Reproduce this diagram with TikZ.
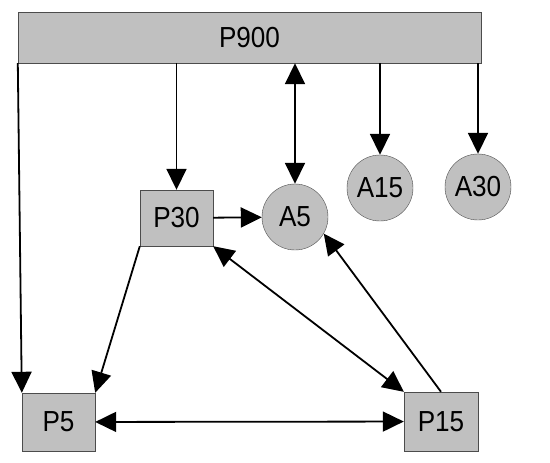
\documentclass[tikz,border=0pt]{standalone}
\usepackage{fontspec}
\setmainfont{Liberation Sans}[FakeStretch=0.9]
\usepackage{xcolor}
\usepackage{tikz}
\usetikzlibrary{arrows.meta,positioning,calc}
\definecolor{boxgray}{RGB}{192,192,192}

\begin{document}
\begin{tikzpicture}[x=1pt,y=-1pt,>={Triangle[length=21pt,width=20pt]},
  every node/.style={font=\fontsize{29}{32}\selectfont,inner sep=0pt},
  proc/.style={rectangle,draw=black!70,fill=boxgray},
  acc/.style={circle,draw=black!70,fill=boxgray,minimum size=66pt},
  link/.style={line width=1.8pt}]
\useasboundingbox (0,0) rectangle (550,463);
\node[proc,minimum width=463pt,minimum height=51pt] (p900) at (249.5,37.5) {P900};
\node[proc,minimum width=73pt,minimum height=56pt] (p30) at (176.5,218) {P30};
\node[proc,minimum width=73pt,minimum height=58pt] (p5) at (58.5,422) {P5};
\node[proc,minimum width=74pt,minimum height=59pt] (p15) at (441,421.5) {P15};
\node[acc] (a5) at (295,217) {A5};
\node[acc] (a15) at (380,188) {A15};
\node[acc] (a30) at (478,187) {A30};
\draw[link,->] (p900.south west)--(p5.north west);
\draw[link,->] (p900.south -| p30)--(p30.north);
\draw[link,<->] (p900.south -| a5)--(a5.north);
\draw[link,->] (p900.south -| a15)--(a15.north);
\draw[link,->] (p900.south -| a30)--(a30.north);
\draw[link,->] (p30)--(a5);
\draw[link,->] (p30.south west)--(p5.north east);
\draw[link,<->] (p30.south east)--(p15.north west);
\draw[link,->] (p15.north)--(a5.-30);
\draw[link,<->] (p5)--(p15);
\end{tikzpicture}
\end{document}
